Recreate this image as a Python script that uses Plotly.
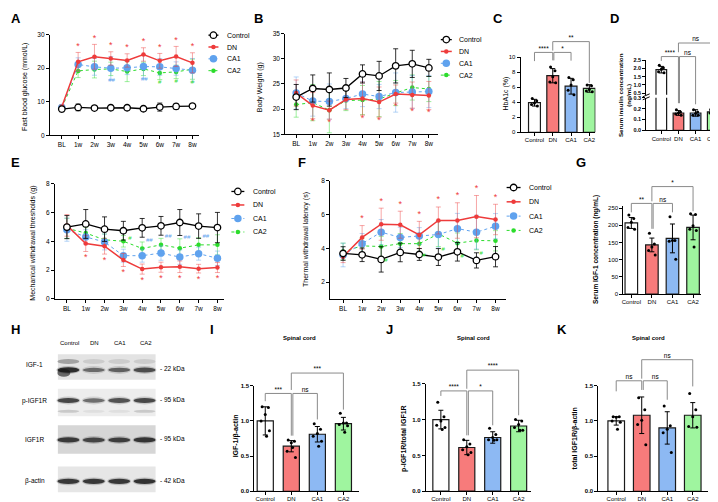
import plotly.graph_objects as go

W, H = 718, 502
FONT = "Liberation Sans, Arial, sans-serif"

# ---------------- data ----------------
weeks = ["BL", "1w", "2w", "3w", "4w", "5w", "6w", "7w", "8w"]
groups = ["Control", "DN", "CA1", "CA2"]

# A  fasting blood glucose (mmol/L)
glucose_control = [7.8, 8.3, 8.1, 8.2, 8.2, 7.9, 8.4, 8.6, 8.7]
glucose_dn = [8.5, 21.9, 23.4, 22.9, 22.3, 24.1, 22.2, 23.5, 21.6]
glucose_ca1 = [8.3, 21.1, 20.4, 20.0, 20.1, 20.5, 20.4, 19.9, 19.4]
glucose_ca2 = [8.2, 19.2, 19.6, 19.8, 19.0, 19.8, 18.6, 18.9, 19.7]
glucose_control_sd = [0.8, 1.0, 0.6, 0.7, 0.6, 0.7, 1.2, 0.8, 0.7]
glucose_dn_sd = [0.5, 2.8, 3.7, 2.0, 2.0, 2.0, 2.2, 3.0, 3.0]
glucose_ca1_sd = [0.6, 2.0, 2.5, 3.5, 2.0, 3.5, 2.5, 2.0, 3.5]
glucose_ca2_sd = [0.8, 2.0, 2.5, 2.0, 3.0, 2.0, 2.0, 2.0, 3.0]
glucose_dn_sig = ["", "*", "*", "*", "*", "*", "*", "*", "*"]
glucose_ca1_sig = ["", "", "", "##", "", "##", "", "", ""]
glucose_ca2_sig = ["", "", "", "", "", "", "#", "#", "#"]

# B  body weight (g)
weight_control = [22.4, 24.1, 23.9, 24.2, 27.0, 26.6, 28.6, 29.0, 28.2]
weight_dn = [23.2, 20.7, 19.8, 21.9, 22.1, 21.4, 23.0, 22.8, 22.7]
weight_ca1 = [23.2, 21.6, 21.5, 22.1, 23.0, 22.5, 23.3, 23.4, 23.5]
weight_ca2 = [20.9, 21.3, 19.8, 21.7, 21.8, 22.0, 23.2, 24.3, 24.0]
weight_control_sd = [2.5, 2.7, 3.3, 1.9, 1.8, 2.9, 3.4, 2.7, 1.7]
weight_dn_sd = [2.6, 2.6, 1.8, 2.0, 3.3, 3.0, 1.8, 2.6, 2.8]
weight_ca1_sd = [3.2, 3.0, 3.5, 2.0, 2.5, 2.4, 3.9, 3.3, 3.2]
weight_ca2_sd = [2.5, 3.6, 4.5, 2.0, 2.9, 3.5, 2.5, 2.5, 2.5]
weight_dn_sig = ["", "*", "*", "", "*", "*", "*", "*", "*"]

# E  mechanical withdrawal threshold (g)
mech_control = [4.98, 5.2, 4.84, 4.73, 4.93, 5.07, 5.3, 5.05, 4.95]
mech_dn = [5.1, 3.84, 3.66, 2.7, 2.07, 2.2, 2.23, 2.1, 2.18]
mech_ca1 = [4.8, 4.3, 3.95, 3.0, 3.0, 3.18, 2.9, 3.14, 2.82]
mech_ca2 = [4.9, 4.57, 4.1, 4.0, 3.5, 3.75, 3.52, 3.75, 3.75]
mech_control_sd = [0.8, 1.0, 0.85, 0.65, 0.65, 0.65, 0.9, 0.85, 1.05]
mech_dn_sd = [0.75, 0.55, 0.55, 0.45, 0.35, 0.35, 0.4, 0.3, 0.35]
mech_ca1_sd = [0.8, 0.5, 0.55, 0.45, 0.45, 0.5, 0.5, 0.45, 0.5]
mech_ca2_sd = [0.7, 0.4, 0.4, 0.4, 0.45, 0.45, 0.65, 0.5, 0.7]
mech_dn_sig = ["", "*", "*", "*", "*", "*", "*", "*", "*"]
mech_ca1_sig = ["", "", "", "", "##", "##", "##", "##", "##"]
mech_ca2_sig = ["", "", "", "#", "", "", "", "", ""]

# F  thermal withdrawal latency (s)
therm_control = [3.69, 3.61, 3.34, 3.75, 3.63, 3.48, 3.79, 3.28, 3.5]
therm_dn = [3.5, 4.64, 5.42, 5.39, 4.79, 5.64, 5.64, 5.87, 5.7]
therm_ca1 = [3.6, 4.27, 4.95, 4.64, 4.72, 4.81, 5.16, 4.95, 5.3]
therm_ca2 = [3.8, 4.14, 4.1, 4.27, 4.27, 4.85, 4.3, 4.46, 4.44]
therm_control_sd = [0.4, 0.4, 0.75, 0.55, 0.35, 0.5, 0.55, 0.45, 0.6]
therm_dn_sd = [0.35, 0.7, 0.95, 0.8, 0.8, 0.8, 1.05, 1.25, 0.9]
therm_ca1_sd = [0.7, 0.6, 0.75, 0.6, 0.5, 0.8, 0.9, 1.0, 0.75]
therm_ca2_sd = [0.5, 0.45, 0.6, 0.6, 0.5, 0.75, 0.6, 0.55, 0.6]
therm_dn_sig = ["", "*", "*", "*", "*", "*", "*", "*", "*"]
therm_ca2_sig = ["", "", "#", "", "#", "#", "#", "#", ""]

# C  HbA1c (%)
hba1c_mean = [3.95, 7.55, 6.15, 5.85]
hba1c_sd = [0.45, 0.95, 1.05, 0.5]
hba1c_points = [[4.5, 4.2, 3.9, 3.7, 3.5], [8.7, 8.2, 7.4, 6.7, 6.6],
                [7.3, 7.0, 6.3, 5.6, 5.0], [6.3, 6.2, 5.7, 5.5, 5.4]]

# D  serum insulin (ng/mL)
insulin_mean = [1.93, 0.16, 0.16, 0.17]
insulin_sd = [0.2, 0.022, 0.03, 0.02]
insulin_points = [[2.2, 2.05, 1.95, 1.8, 1.75], [0.19, 0.17, 0.16, 0.15, 0.14],
                  [0.19, 0.17, 0.155, 0.14, 0.14], [0.19, 0.18, 0.17, 0.16, 0.15]]

# G  serum IGF-1 (ng/mL)
igf_serum_mean = [207, 143, 162, 194]
igf_serum_sd = [16, 20, 42, 36]
igf_serum_points = [[230, 220, 209, 194, 189], [177, 146, 137, 127, 114],
                    [225, 156, 156, 154, 101], [234, 232, 199, 189, 185, 137]]

# I  spinal cord IGF-1/beta-actin
sc_igf_mean = [1.0, 0.64, 0.81, 0.96]
sc_igf_sd = [0.2, 0.08, 0.11, 0.09]
sc_igf_points = [[1.2, 1.19, 1.09, 1.0, 0.86, 0.78], [0.73, 0.71, 0.69, 0.57, 0.48, 0.62],
                 [0.96, 0.88, 0.82, 0.78, 0.71, 0.64], [1.11, 0.97, 0.97, 0.95, 0.93, 0.84]]

# J  spinal cord p-IGF1R/total IGF1R
sc_pigf_mean = [1.0, 0.61, 0.75, 0.91]
sc_pigf_sd = [0.13, 0.1, 0.08, 0.08]
sc_pigf_points = [[1.24, 1.04, 0.98, 0.92, 0.89, 0.86], [0.72, 0.66, 0.62, 0.58, 0.54, 0.51],
                  [0.88, 0.79, 0.75, 0.72, 0.72, 0.71], [1.0, 0.98, 0.93, 0.89, 0.85, 0.85]]

# K  spinal cord total IGF1R/beta-actin
sc_tigf_mean = [1.0, 1.08, 0.9, 1.08]
sc_tigf_sd = [0.06, 0.26, 0.23, 0.18]
sc_tigf_points = [[1.06, 1.06, 1.05, 1.0, 0.98, 0.88], [1.33, 1.16, 1.01, 0.95, 0.66],
                  [1.21, 0.93, 0.88, 0.83, 0.55], [1.39, 1.16, 1.06, 0.92, 0.91]]

# significance brackets: (group a, group b, level, leg end a, leg end b, label)
hba1c_sig = [(0, 1, 10.66, 9.5, 9.6, "****"), (1, 2, 10.66, 9.6, 9.56, "*"), (1, 3, 12.1, 10.9, 6.6, "**")]
insulin_sig = [(0, 1, 0.68, 0.64, 0.25, "****"), (1, 2, 0.68, 0.25, 0.24, "ns"), (1, 3, 0.805, 0.72, 0.2, "ns")]
igf_serum_sig = [(0, 1, 264, 238, 190, "**"), (1, 2, 264, 190, 238, "ns"), (1, 3, 313, 270, 241, "*")]
sc_igf_sig = [(0, 1, 1.39, 1.28, 0.79, "***"), (1, 2, 1.39, 0.79, 1.02, "ns"), (1, 3, 1.68, 1.44, 1.16, "***")]
sc_pigf_sig = [(0, 1, 1.40, 1.33, 0.78, "****"), (1, 2, 1.40, 0.78, 0.92, "*"), (1, 3, 1.69, 1.43, 1.06, "****")]
sc_tigf_sig = [(0, 1, 1.57, 1.42, 1.44, "ns"), (1, 2, 1.57, 1.44, 1.30, "ns"), (1, 3, 1.87, 1.6, 1.49, "ns")]

# western blot
blot_proteins = ["IGF-1", "p-IGF1R", "IGF1R", "β-actin"]
blot_kda = ["- 22 kDa", "- 95 kDa", "- 95 kDa", "- 42 kDa"]
blot_intensity = [[1.0, 0.62, 0.68, 0.8], [0.85, 0.62, 0.78, 0.84],
                  [0.9, 0.84, 0.88, 0.94], [0.93, 0.93, 0.93, 0.96]]

# ---------------- style ----------------
RED = "#ee3b3b"
BLUE = "#5fa2ee"
GREEN = "#2bdc2b"
BAR_FILLS = ["#ffffff", "#f77b7b", "#8db9f3", "#9ff59f"]
STYLE = [
    dict(line=dict(color="black", width=1.3), marker=dict(size=6.5, color="white", line=dict(color="black", width=1.3)), ecolor="rgba(0,0,0,0.8)"),
    dict(line=dict(color=RED, width=1.5), marker=dict(size=4.5, color=RED), ecolor="rgba(238,59,59,0.45)"),
    dict(line=dict(color=BLUE, width=1, dash="dot"), marker=dict(size=7.5, color=BLUE), ecolor="rgba(95,162,238,0.45)"),
    dict(line=dict(color=GREEN, width=1, dash="dot"), marker=dict(size=4.5, color=GREEN), ecolor="rgba(43,220,43,0.45)"),
]
JITTER = [-0.12, 0.12, 0.0, -0.16, 0.16, 0.05]

traces = []
layout = dict(width=W, height=H, margin=dict(l=0, r=0, t=0, b=0), paper_bgcolor="white",
              plot_bgcolor="rgba(0,0,0,0)", showlegend=False, font=dict(family=FONT, color="black"),
              annotations=[], shapes=[])


def akey(kind, n):
    return f"{kind}axis" + ("" if n == 1 else str(n))


def aref(kind, n):
    return kind + ("" if n == 1 else str(n))


def xdom(a, b):
    return [a / W, b / W]


def ydom(top, bot):
    return [1 - bot / H, 1 - top / H]


def base_axis(size, bold=False):
    return dict(showline=True, linecolor="black", linewidth=1, ticks="outside", ticklen=3, tickwidth=1,
                tickcolor="black", showgrid=False, zeroline=False, fixedrange=True,
                tickfont=dict(size=size, family=FONT, color="black"))


def set_axes(n, xd, xr, yd, yr, xtv, xtt, ytv, ytt, xsize=6.5, ysize=6.5, ybold=False, xvisible=True, xstand=0):
    xa = base_axis(xsize)
    xa.update(domain=xdom(*xd), range=list(xr), anchor=aref("y", n), tickmode="array", tickvals=xtv, ticktext=xtt,
              ticklabelstandoff=xstand)
    if not xvisible:
        xa["visible"] = False
    ya = base_axis(ysize)
    if ybold:
        ytt = [f"<b>{t}</b>" for t in ytt]
    ya.update(domain=ydom(*yd), range=list(yr), anchor=aref("x", n), tickmode="array", tickvals=ytv, ticktext=ytt)
    layout[akey("x", n)] = xa
    layout[akey("y", n)] = ya


def hidden_axes(n, xd, xr, yd, yr):
    layout[akey("x", n)] = dict(domain=xdom(*xd), range=list(xr), visible=False, fixedrange=True, anchor=aref("y", n))
    layout[akey("y", n)] = dict(domain=ydom(*yd), range=list(yr), visible=False, fixedrange=True, anchor=aref("x", n))


def ann(x, y, text, size, bold=False, angle=0, xanchor="center", color="black"):
    layout["annotations"].append(dict(
        x=x / W, y=1 - y / H, xref="paper", yref="paper", text=f"<b>{text}</b>" if bold else text,
        showarrow=False, font=dict(size=size, color=color, family=FONT), textangle=angle,
        xanchor=xanchor, yanchor="middle"))


def line_panel(n, xd, xr, yd, yr, ytv, series, sds, sigs):
    set_axes(n, xd, xr, yd, yr, list(range(len(weeks))), weeks, ytv, [str(v) for v in ytv])
    xs = list(range(len(weeks)))
    for g in [3, 2, 1, 0]:
        st = STYLE[g]
        traces.append(go.Scatter(
            x=xs, y=series[g], xaxis=aref("x", n), yaxis=aref("y", n), mode="lines+markers",
            line=st["line"], marker=st["marker"], name=groups[g], cliponaxis=False,
            error_y=dict(type="data", array=sds[g], color=st["ecolor"], thickness=1, width=2.5)))
    for labels, g, side, off, dx, color, size in sigs:
        ys = [m + side * (s + off) for m, s in zip(series[g], sds[g])]
        traces.append(go.Scatter(
            x=[x + dx for x in xs], y=ys, text=labels, mode="text", xaxis=aref("x", n), yaxis=aref("y", n),
            textposition="middle center", cliponaxis=False, textfont=dict(color=color, size=size, family=FONT)))


def bar_traces(n, means, sds, points, bw):
    xs = list(range(len(groups)))
    traces.append(go.Bar(
        x=xs, y=means, width=bw, xaxis=aref("x", n), yaxis=aref("y", n),
        marker=dict(color=BAR_FILLS, line=dict(color="#1a1a1a", width=1.2)),
        error_y=dict(type="data", array=sds, color="black", thickness=1, width=2.5)))
    px_, py_ = [], []
    for i, pts in enumerate(points):
        for k, v in enumerate(pts):
            px_.append(i + JITTER[k % len(JITTER)])
            py_.append(v)
    traces.append(go.Scatter(x=px_, y=py_, mode="markers", xaxis=aref("x", n), yaxis=aref("y", n),
                             marker=dict(size=3, color="black")))


def brackets(nb, xd, xr, yd, yr, top_px, sigs):
    scale = (yd[1] - yd[0]) / (yr[1] - yr[0])
    r1 = yr[0] + (yd[1] - top_px) / scale
    hidden_axes(nb, xd, xr, (top_px, yd[1]), (yr[0], r1))
    for a, b, lvl, ea, eb, lab in sigs:
        da = 0.06 if (a == 1 and b == 2) else 0.0
        traces.append(go.Scatter(x=[a + da, a + da, b, b], y=[ea, lvl, lvl, eb], mode="lines",
                                 xaxis=aref("x", nb), yaxis=aref("y", nb),
                                 line=dict(color="#8a8a8a", width=1)))
        traces.append(go.Scatter(x=[(a + b) / 2 + da / 2], y=[lvl], text=[lab], mode="text",
                                 textposition="top center", xaxis=aref("x", nb), yaxis=aref("y", nb),
                                 cliponaxis=False, textfont=dict(size=6.5, color="black", family=FONT)))


def bar_panel(n, nb, xd, xr, yd, yr, ytv, ytt, means, sds, points, sigs, top_px, bw, ybold):
    set_axes(n, xd, xr, yd, yr, list(range(4)), groups, ytv, ytt, xsize=6, ysize=6, ybold=ybold, xstand=-1)
    bar_traces(n, means, sds, points, bw)
    brackets(nb, xd, xr, yd, yr, top_px, sigs)


# ---------------- line panels ----------------
line_panel(1, (40, 190), (-0.73, 8.43), (23, 125), (0, 30), [0, 10, 20, 30],
           [glucose_control, glucose_dn, glucose_ca1, glucose_ca2],
           [glucose_control_sd, glucose_dn_sd, glucose_ca1_sd, glucose_ca2_sd],
           [(glucose_dn_sig, 1, 1, 1.8, 0, RED, 9),
            (glucose_ca1_sig, 2, -1, 0.3, 0.05, BLUE, 6),
            (glucose_ca2_sig, 3, -1, 1.0, 0.0, GREEN, 6)])
line_panel(2, (276, 429), (-0.66, 8.54), (22, 124), (15, 35), [15, 20, 25, 30, 35],
           [weight_control, weight_dn, weight_ca1, weight_ca2],
           [weight_control_sd, weight_dn_sd, weight_ca1_sd, weight_ca2_sd],
           [(weight_dn_sig, 1, -1, 0.7, 0, RED, 9)])
line_panel(6, (45, 215), (-0.64, 8.37), (174, 291), (0, 8), [0, 2, 4, 6, 8],
           [mech_control, mech_dn, mech_ca1, mech_ca2],
           [mech_control_sd, mech_dn_sd, mech_ca1_sd, mech_ca2_sd],
           [(mech_dn_sig, 1, -1, 0.45, 0, RED, 9),
            (mech_ca1_sig, 3, 1, 0.1, 0.38, BLUE, 6),
            (mech_ca2_sig, 3, 1, -0.2, 0.35, GREEN, 6)])
line_panel(7, (321, 497), (-0.68, 8.53), (171, 291), (1, 8), [2, 4, 6, 8],
           [therm_control, therm_dn, therm_ca1, therm_ca2],
           [therm_control_sd, therm_dn_sd, therm_ca1_sd, therm_ca2_sd],
           [(therm_dn_sig, 1, 1, 0.4, 0, RED, 9),
            (therm_ca2_sig, 3, -1, 0.2, 0.25, GREEN, 6)])

# ---------------- bar panels ----------------
bar_panel(3, 20, (512, 587), (-0.76, 3.33), (46, 122), (0, 10), [0, 2, 4, 6, 8, 10],
          ["0", "2", "4", "6", "8", "10"], hba1c_mean, hba1c_sd, hba1c_points, hba1c_sig, 15, 0.65, False)

# D: broken axis (upper + lower)
set_axes(4, (638, 715), (-0.88, 3.6), (49, 84), (0.4, 2.5), list(range(4)), groups,
         [0.5, 1.0, 1.5, 2.0, 2.5], ["0.5", "1.0", "1.5", "2.0", "2.5"], xsize=6, ysize=5.5, ybold=True, xvisible=False)
bar_traces(4, insulin_mean, insulin_sd, insulin_points, 0.62)
set_axes(5, (638, 715), (-0.88, 3.6), (87, 120), (0, 0.3), list(range(4)), groups,
         [0.0, 0.1, 0.2, 0.3], ["0.0", "0.1", "0.2", "0.3"], xsize=6, ysize=5.5, ybold=True, xstand=-1)
bar_traces(5, insulin_mean, insulin_sd, insulin_points, 0.62)
brackets(21, (638, 715), (-0.88, 3.6), (87, 120), (0, 0.3), 15, insulin_sig)

bar_panel(8, 22, (615, 693), (-0.39, 3.39), (197, 286), (0, 255.7), [0, 50, 100, 150, 200, 250],
          ["0", "50", "100", "150", "200", "250"], igf_serum_mean, igf_serum_sd, igf_serum_points,
          igf_serum_sig, 160, 0.61, False)
tick15 = ([0, 0.5, 1.0, 1.5], ["0.0", "0.5", "1.0", "1.5"])
bar_panel(9, 23, (245, 350), (-0.42, 3.6), (379, 486), (0, 1.5), *tick15,
          sc_igf_mean, sc_igf_sd, sc_igf_points, sc_igf_sig, 340, 0.62, True)
bar_panel(10, 24, (417, 522), (-0.58, 3.46), (377, 486), (0, 1.5), *tick15,
          sc_pigf_mean, sc_pigf_sd, sc_pigf_points, sc_pigf_sig, 340, 0.62, True)
bar_panel(11, 25, (590, 700), (-0.7, 3.6), (379, 486), (0, 1.5), *tick15,
          sc_tigf_mean, sc_tigf_sd, sc_tigf_points, sc_tigf_sig, 335, 0.65, True)

# ---------------- overlay (pixel space) for legends, blot, axis break ----------------
OV = 30
hidden_axes(OV, (0, W), (0, W), (0, H), (H, 0))

legend_specs = [(199, 23.5, 12.0, 10, 216), (432, 28, 12.0, 11, 448),
                (222, 182, 13.7, 13, 242), (498, 178, 14.5, 14, 518)]
for x0, y0, gap, L, tx in legend_specs:
    for g in range(4):
        yy = y0 + g * gap
        st = STYLE[g]
        traces.append(go.Scatter(x=[x0, x0 + L], y=[yy, yy], mode="lines", line=st["line"],
                                 xaxis=aref("x", OV), yaxis=aref("y", OV)))
        traces.append(go.Scatter(x=[x0 + L / 2], y=[yy], mode="markers", marker=st["marker"],
                                 xaxis=aref("x", OV), yaxis=aref("y", OV)))
        ann(tx, yy, groups[g], 7, xanchor="left")

# western blot drawing
BLOT_X = (48, 146)
blot_boxes = [(347, 373), (382, 410), (419, 448), (461, 487)]
blot_bg = ["#e3e3e3", "#ededed", "#d6d6d6", "#e6e6e6"]
band_y = [363, 394, 434, 476]
lane_x = [58.5 + 25.5 * k for k in range(4)]
for r, (t, b) in enumerate(blot_boxes):
    layout["shapes"].append(dict(type="rect", xref=aref("x", OV), yref=aref("y", OV), x0=BLOT_X[0], x1=BLOT_X[1],
                                 y0=t, y1=b, fillcolor=blot_bg[r], line=dict(width=0), layer="above"))
for r in range(4):
    for k in range(4):
        inten = blot_intensity[r][k]
        cx, cy = lane_x[k], band_y[r]
        layout["shapes"].append(dict(type="circle", xref=aref("x", OV), yref=aref("y", OV),
                                     x0=cx - 12, x1=cx + 12, y0=cy - 4, y1=cy + 4,
                                     fillcolor=f"rgba(60,60,60,{0.25 * inten:.2f})", line=dict(width=0), layer="above"))
        layout["shapes"].append(dict(type="circle", xref=aref("x", OV), yref=aref("y", OV),
                                     x0=cx - 11, x1=cx + 11, y0=cy - 1.2 - 1.6 * inten, y1=cy + 1.2 + 1.6 * inten,
                                     fillcolor=f"rgba(20,20,20,{0.85 * inten:.2f})", line=dict(width=0), layer="above"))
    for k in range(4):
        cx = lane_x[k]
        if r == 0:
            a = 0.35 if k == 0 else 0.12
            layout["shapes"].append(dict(type="circle", xref=aref("x", OV), yref=aref("y", OV),
                                         x0=cx - 11, x1=cx + 11, y0=352, y1=357,
                                         fillcolor=f"rgba(40,40,40,{a})", line=dict(width=0), layer="above"))
        if r == 1:
            a = 0.18 if k in (0, 3) else 0.07
            layout["shapes"].append(dict(type="circle", xref=aref("x", OV), yref=aref("y", OV),
                                         x0=cx - 11, x1=cx + 11, y0=403.5, y1=406.5,
                                         fillcolor=f"rgba(40,40,40,{a})", line=dict(width=0), layer="above"))
layout["shapes"].append(dict(type="circle", xref=aref("x", OV), yref=aref("y", OV), x0=lane_x[0] - 11,
                             x1=lane_x[0] + 2, y0=362, y1=370, fillcolor="rgba(20,20,20,0.6)",
                             line=dict(width=0), layer="above"))

label_y = [357, 394, 434, 476]
for r in range(4):
    ann(25, label_y[r], blot_proteins[r], 6.5)
    ann(148, band_y[r] - 1, blot_kda[r], 6.5, xanchor="left")
for k in range(4):
    ann(lane_x[k] + 1, 336, groups[k], 6)

# axis break marks for D
for yb in (84.5, 87.5):
    layout["shapes"].append(dict(type="line", xref=aref("x", OV), yref=aref("y", OV), x0=634.5, x1=641.5,
                                 y0=yb + 1.5, y1=yb - 1.5, line=dict(color="black", width=1), layer="above"))

# ---------------- text ----------------
for lab, x, y in [("A", 6, 7), ("B", 249, 7), ("C", 489, 7), ("D", 606, 7), ("E", 6, 153),
                  ("F", 293, 153), ("G", 573, 153), ("H", 6, 322), ("I", 203, 322), ("J", 381, 322),
                  ("K", 554, 322)]:
    ann(x, y, lab, 13, bold=True)

ann(15, 76, "Fast blood glucose (mmol/L)", 7, angle=-90)
ann(251, 76, "Body Weight (g)", 7, angle=-90)
ann(497, 83, "HbA1c (%)", 7, angle=-90)
ann(617, 84, "Serum insulin concentration<br>(ng/mL)", 6.2, bold=True, angle=-90)
ann(23, 234, "Mechanical withdrawal thresholds (g)", 7, angle=-90)
ann(297, 231, "Thermal withdrawal latency (s)", 7, angle=-90)
ann(587, 241, "Serum IGF-1 concentration (ng/mL)", 6.5, bold=True, angle=-90)
ann(227, 430, "IGF-1/β-actin", 7, bold=True, angle=-90)
ann(395, 432, "p-IGF1R/total IGF1R", 7, bold=True, angle=-90)
ann(567, 432, "total IGF1R/β-actin", 7, bold=True, angle=-90)
for x in (290, 465, 640):
    ann(x, 331, "Spinal cord", 6, bold=True)

fig = go.Figure(data=traces, layout=layout)
fig.write_html("out.html")
